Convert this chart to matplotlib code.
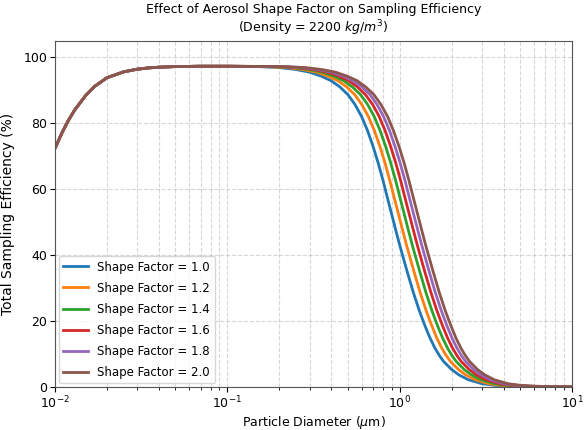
import matplotlib
matplotlib.use("Agg")
import matplotlib.pyplot as plt

plt.rcParams["font.family"] = ["DejaVu Sans"]

# rising part (all shape factors overlap here)
diam_rise = [0.01, 0.011, 0.012, 0.013, 0.015, 0.017, 0.02, 0.025, 0.03,
             0.035, 0.04, 0.05, 0.07, 0.1]
eff_rise = [72.4, 77.2, 81.0, 84.0, 88.3, 91.2, 93.8, 95.6, 96.4,
            96.8, 97.0, 97.2, 97.3, 97.3]

# falling part: efficiency levels (%) and the diameter (um) where each curve reaches them
eff_fall = [97.2, 96.9, 96.3, 95.5, 94.3, 92.9, 91.0, 88.7, 85.7, 82.1,
            77.8, 73.0, 67.9, 62.6, 57.2, 52.2, 47.4, 43.0, 35.3, 28.6,
            23.1, 18.6, 14.8, 11.8, 9.5, 7.7, 5.3, 3.7, 2.2, 1.0,
            0.55, 0.32, 0.13, 0.06, 0.03, 0.015, 0.01]

d_10 = [0.15, 0.2, 0.25, 0.3, 0.35, 0.4, 0.45, 0.5, 0.55, 0.6,
        0.65, 0.7, 0.75, 0.8, 0.85, 0.9, 0.95, 1.0, 1.1, 1.2,
        1.3, 1.4, 1.5, 1.6, 1.7, 1.8, 2.0, 2.2, 2.5, 3.0,
        3.5, 4.0, 5.0, 6.0, 7.0, 8.5, 10.0]
d_12 = [0.164, 0.219, 0.274, 0.329, 0.383, 0.438, 0.493, 0.548, 0.602, 0.657,
        0.712, 0.767, 0.822, 0.876, 0.931, 0.986, 1.041, 1.095, 1.205, 1.314,
        1.424, 1.534, 1.643, 1.753, 1.862, 1.972, 2.191, 2.410, 2.739, 3.286,
        3.834, 4.382, 5.477, 6.572, 7.668, 9.311, 10.95]
d_14 = [0.177, 0.237, 0.296, 0.355, 0.414, 0.473, 0.532, 0.592, 0.651, 0.710,
        0.769, 0.828, 0.887, 0.947, 1.006, 1.065, 1.124, 1.183, 1.302, 1.420,
        1.538, 1.656, 1.775, 1.893, 2.011, 2.130, 2.366, 2.603, 2.958, 3.550,
        4.141, 4.733, 5.916, 7.099, 8.282, 10.06, 11.83]
d_16 = [0.190, 0.253, 0.316, 0.379, 0.443, 0.506, 0.569, 0.632, 0.696, 0.759,
        0.822, 0.885, 0.949, 1.012, 1.075, 1.138, 1.202, 1.265, 1.391, 1.518,
        1.644, 1.771, 1.897, 2.024, 2.150, 2.277, 2.530, 2.783, 3.162, 3.795,
        4.427, 5.060, 6.325, 7.589, 8.854, 10.75, 12.65]
d_18 = [0.201, 0.268, 0.335, 0.402, 0.470, 0.537, 0.604, 0.671, 0.738, 0.805,
        0.872, 0.939, 1.006, 1.073, 1.140, 1.207, 1.275, 1.342, 1.476, 1.610,
        1.744, 1.878, 2.012, 2.147, 2.281, 2.415, 2.683, 2.952, 3.354, 4.025,
        4.696, 5.367, 6.708, 8.050, 9.391, 11.40, 13.42]
d_20 = [0.212, 0.283, 0.354, 0.424, 0.495, 0.566, 0.636, 0.707, 0.778, 0.849,
        0.919, 0.990, 1.061, 1.131, 1.202, 1.273, 1.344, 1.414, 1.556, 1.697,
        1.838, 1.980, 2.121, 2.263, 2.404, 2.546, 2.828, 3.111, 3.536, 4.243,
        4.950, 5.657, 7.071, 8.485, 9.899, 12.02, 14.14]

shape_factors = ["1.0", "1.2", "1.4", "1.6", "1.8", "2.0"]
fall_diams = [d_10, d_12, d_14, d_16, d_18, d_20]

fig = plt.figure(figsize=(5.85, 4.3), dpi=100)
ax = fig.add_axes([0.094, 0.1, 0.884, 0.805])

for sf, dd in zip(shape_factors, fall_diams):
    ax.plot(diam_rise + dd, eff_rise + eff_fall, lw=2,
            label=f"Shape Factor = {sf}")

ax.set_xscale("log")
ax.set_xlim(0.01, 10)
ax.set_ylim(0, 105)
ax.set_yticks([0, 20, 40, 60, 80, 100])
ax.grid(True, which="both", linestyle="--", alpha=0.5)

ax.set_title("Effect of Aerosol Shape Factor on Sampling Efficiency\n"
             "(Density = 2200 $kg/m^3$)", fontsize=9, pad=6)
ax.set_xlabel("Particle Diameter ($\\mu$m)", fontsize=9, labelpad=2)
ax.set_ylabel("Total Sampling Efficiency (%)", fontsize=10, labelpad=6)
ax.tick_params(labelsize=9, pad=2)
for s in ax.spines.values():
    s.set_color("#555555")

ax.legend(loc="lower left", fontsize=8.5, handlelength=2.1,
          borderaxespad=0.3, labelspacing=0.68)

fig.savefig("out.png", dpi=100)
